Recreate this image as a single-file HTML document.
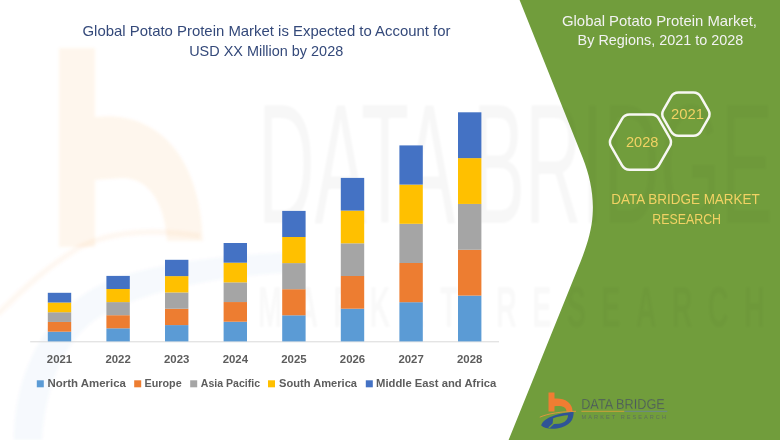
<!DOCTYPE html>
<html><head><meta charset="utf-8">
<style>
html,body{margin:0;padding:0;background:#fff;}
body{width:780px;height:440px;overflow:hidden;position:relative;}
svg{position:absolute;left:0;top:0;display:block;}
text{font-family:"Liberation Sans",sans-serif;}
</style></head>
<body>
<svg width="780" height="440" viewBox="0 0 780 440">
  <defs><filter id="bl" x="-10%" y="-10%" width="120%" height="120%"><feGaussianBlur stdDeviation="1.5"/></filter><filter id="bl2" x="-5%" y="-10%" width="110%" height="120%"><feGaussianBlur stdDeviation="1"/></filter><clipPath id="gc"><path d="M519.6 0 L582.8 158 C590 176 594 196 592.6 215 C591.6 232 585.5 250 578 268 L508.6 440 L780 440 L780 0 Z"/></clipPath></defs>
  <g filter="url(#bl)">
  <!-- faint watermark logo left -->
  <g opacity="0.07">
    <path d="M59 48 L95 48 L95 117 C152 110 200 150 203 241 L167 241 C165 205 150 178 122 178 L95 180 L95 247 L59 247 Z" fill="#ED7D31"/>
  </g>
  <g opacity="0.035">
    <path d="M14 440 C14 380 40 310 110 280 C160 262 230 254 300 252 L300 272 C220 276 140 290 95 320 C60 345 45 395 42 440 Z" fill="#4472C4"/>
  </g>
  <path d="M-2 314 C20 292 45 268 80 247 C110 232 150 228 200 236" fill="none" stroke="#ED7D31" stroke-width="6" opacity="0.05"/>
  </g>
  <!-- watermark text (white side) -->
  <text filter="url(#bl2)" x="258" y="223" font-size="170" fill="#000" opacity="0.03" textLength="515" lengthAdjust="spacingAndGlyphs">DATA BRIDGE</text>
  <text filter="url(#bl2)" x="258" y="327" font-size="57" font-weight="bold" fill="#000" opacity="0.025" textLength="522" lengthAdjust="spacingAndGlyphs" letter-spacing="30">MARKET RESEARCH</text>
  <!-- green panel -->
  <path d="M519.6 0 L582.8 158 C590 176 594 196 592.6 215 C591.6 232 585.5 250 578 268 L508.6 440 L780 440 L780 0 Z" fill="#719D3C"/>
  <g clip-path="url(#gc)">
    <text filter="url(#bl2)" x="258" y="223" font-size="170" fill="#000" opacity="0.02" textLength="515" lengthAdjust="spacingAndGlyphs">DATA BRIDGE</text>
    <text filter="url(#bl2)" x="258" y="327" font-size="57" font-weight="bold" fill="#000" opacity="0.02" textLength="522" lengthAdjust="spacingAndGlyphs" letter-spacing="30">MARKET RESEARCH</text>
  </g>


  <!-- title -->
  <text x="82.5" y="35.9" font-size="14.8" fill="#34497A" textLength="368" lengthAdjust="spacingAndGlyphs">Global Potato Protein Market is Expected to Account for</text>
  <text x="189.2" y="55.9" font-size="14.8" fill="#34497A" textLength="154" lengthAdjust="spacingAndGlyphs">USD XX Million by 2028</text>

  <!-- green title -->
  <text x="562" y="25.6" font-size="14.8" fill="#F2F2F2" textLength="195" lengthAdjust="spacingAndGlyphs">Global Potato Protein Market,</text>
  <text x="577.6" y="45.4" font-size="14.8" fill="#F2F2F2" textLength="165.6" lengthAdjust="spacingAndGlyphs">By Regions, 2021 to 2028</text>

  <!-- hexagons -->
  <path d="M669.75 137.82 Q672.25 142.15 669.75 146.48 L658.85 165.36 Q656.35 169.69 651.35 169.69 L629.55 169.69 Q624.55 169.69 622.05 165.36 L611.15 146.48 Q608.65 142.15 611.15 137.82 L622.05 118.94 Q624.55 114.61 629.55 114.61 L651.35 114.61 Q656.35 114.61 658.85 118.94 Z" fill="none" stroke="#F7F7F2" stroke-width="2.5"/>
  <path d="M708.30 109.77 Q710.80 114.10 708.30 118.43 L700.85 131.33 Q698.35 135.66 693.35 135.66 L678.45 135.66 Q673.45 135.66 670.95 131.33 L663.50 118.43 Q661.00 114.10 663.50 109.77 L670.95 96.87 Q673.45 92.54 678.45 92.54 L693.35 92.54 Q698.35 92.54 700.85 96.87 Z" fill="none" stroke="#F7F7F2" stroke-width="2.5"/>
  <text x="625.9" y="147.2" font-size="14.6" fill="#F1D264" textLength="32.5" lengthAdjust="spacingAndGlyphs">2028</text>
  <text x="671.1" y="119.2" font-size="14.6" fill="#F1D264" textLength="33" lengthAdjust="spacingAndGlyphs">2021</text>

  <!-- DBMR text -->
  <text x="611.3" y="204" font-size="14.2" fill="#F1D264" textLength="148.5" lengthAdjust="spacingAndGlyphs">DATA BRIDGE MARKET</text>
  <text x="652.3" y="223.6" font-size="14.2" fill="#F1D264" textLength="68.7" lengthAdjust="spacingAndGlyphs">RESEARCH</text>

  <!-- axis -->
  <line x1="30.2" y1="341.8" x2="499" y2="341.8" stroke="#D9D9D9" stroke-width="1"/>

  <!-- bars -->
  <g>
  <rect x="47.80" y="331.68" width="23.4" height="9.72" fill="#5B9BD5"/>
  <rect x="47.80" y="321.96" width="23.4" height="9.72" fill="#ED7D31"/>
  <rect x="47.80" y="312.24" width="23.4" height="9.72" fill="#A5A5A5"/>
  <rect x="47.80" y="302.52" width="23.4" height="9.72" fill="#FFC000"/>
  <rect x="47.80" y="292.80" width="23.4" height="9.72" fill="#4472C4"/>
  <rect x="106.40" y="328.30" width="23.4" height="13.10" fill="#5B9BD5"/>
  <rect x="106.40" y="315.20" width="23.4" height="13.10" fill="#ED7D31"/>
  <rect x="106.40" y="302.10" width="23.4" height="13.10" fill="#A5A5A5"/>
  <rect x="106.40" y="289.00" width="23.4" height="13.10" fill="#FFC000"/>
  <rect x="106.40" y="275.90" width="23.4" height="13.10" fill="#4472C4"/>
  <rect x="165.00" y="325.08" width="23.4" height="16.32" fill="#5B9BD5"/>
  <rect x="165.00" y="308.76" width="23.4" height="16.32" fill="#ED7D31"/>
  <rect x="165.00" y="292.44" width="23.4" height="16.32" fill="#A5A5A5"/>
  <rect x="165.00" y="276.12" width="23.4" height="16.32" fill="#FFC000"/>
  <rect x="165.00" y="259.80" width="23.4" height="16.32" fill="#4472C4"/>
  <rect x="223.60" y="321.72" width="23.4" height="19.68" fill="#5B9BD5"/>
  <rect x="223.60" y="302.04" width="23.4" height="19.68" fill="#ED7D31"/>
  <rect x="223.60" y="282.36" width="23.4" height="19.68" fill="#A5A5A5"/>
  <rect x="223.60" y="262.68" width="23.4" height="19.68" fill="#FFC000"/>
  <rect x="223.60" y="243.00" width="23.4" height="19.68" fill="#4472C4"/>
  <rect x="282.20" y="315.30" width="23.4" height="26.10" fill="#5B9BD5"/>
  <rect x="282.20" y="289.20" width="23.4" height="26.10" fill="#ED7D31"/>
  <rect x="282.20" y="263.10" width="23.4" height="26.10" fill="#A5A5A5"/>
  <rect x="282.20" y="237.00" width="23.4" height="26.10" fill="#FFC000"/>
  <rect x="282.20" y="210.90" width="23.4" height="26.10" fill="#4472C4"/>
  <rect x="340.80" y="308.70" width="23.4" height="32.70" fill="#5B9BD5"/>
  <rect x="340.80" y="276.00" width="23.4" height="32.70" fill="#ED7D31"/>
  <rect x="340.80" y="243.30" width="23.4" height="32.70" fill="#A5A5A5"/>
  <rect x="340.80" y="210.60" width="23.4" height="32.70" fill="#FFC000"/>
  <rect x="340.80" y="177.90" width="23.4" height="32.70" fill="#4472C4"/>
  <rect x="399.40" y="302.20" width="23.4" height="39.20" fill="#5B9BD5"/>
  <rect x="399.40" y="263.00" width="23.4" height="39.20" fill="#ED7D31"/>
  <rect x="399.40" y="223.80" width="23.4" height="39.20" fill="#A5A5A5"/>
  <rect x="399.40" y="184.60" width="23.4" height="39.20" fill="#FFC000"/>
  <rect x="399.40" y="145.40" width="23.4" height="39.20" fill="#4472C4"/>
  <rect x="458.00" y="295.58" width="23.4" height="45.82" fill="#5B9BD5"/>
  <rect x="458.00" y="249.76" width="23.4" height="45.82" fill="#ED7D31"/>
  <rect x="458.00" y="203.94" width="23.4" height="45.82" fill="#A5A5A5"/>
  <rect x="458.00" y="158.12" width="23.4" height="45.82" fill="#FFC000"/>
  <rect x="458.00" y="112.30" width="23.4" height="45.82" fill="#4472C4"/>
  </g>

  <!-- axis labels -->
  <g font-size="11.4" font-weight="bold" fill="#5D5D5D" text-anchor="middle">
    <text x="59.5" y="362.5">2021</text>
    <text x="118.1" y="362.5">2022</text>
    <text x="176.7" y="362.5">2023</text>
    <text x="235.3" y="362.5">2024</text>
    <text x="293.9" y="362.5">2025</text>
    <text x="352.5" y="362.5">2026</text>
    <text x="411.1" y="362.5">2027</text>
    <text x="469.7" y="362.5">2028</text>
  </g>

  <!-- legend -->
  <rect x="36.8" y="380.3" width="7" height="7" fill="#5B9BD5"/>
  <rect x="134.2" y="380.3" width="7" height="7" fill="#ED7D31"/>
  <rect x="190.2" y="380.3" width="7" height="7" fill="#A5A5A5"/>
  <rect x="268" y="380.3" width="7" height="7" fill="#FFC000"/>
  <rect x="365.8" y="380.3" width="7" height="7" fill="#4472C4"/>
  <g font-size="11.2" font-weight="bold" fill="#5D5D5D">
    <text x="47.5" y="387.2" textLength="78.5" lengthAdjust="spacingAndGlyphs">North America</text>
    <text x="144.5" y="387.2" textLength="37.2" lengthAdjust="spacingAndGlyphs">Europe</text>
    <text x="200.8" y="387.2" textLength="59.2" lengthAdjust="spacingAndGlyphs">Asia Pacific</text>
    <text x="279" y="387.2" textLength="78" lengthAdjust="spacingAndGlyphs">South America</text>
    <text x="376" y="387.2" textLength="120.3" lengthAdjust="spacingAndGlyphs">Middle East and Africa</text>
  </g>

  <!-- logo -->
  <path d="M548.5 392.5 L554.5 392.5 L554.5 398.6 C559 398.2 564 398.8 568 402 C571 404.5 572.5 408 572.6 411.4 L566.6 411.4 C566.3 408.8 564.8 406.8 561.5 406.2 C559 405.8 556.5 405.9 554.5 406.2 L554.5 411.4 L548.5 411.4 Z" fill="#F07D32"/>
  <path fill-rule="evenodd" fill="#2F5496" d="M541.2 425.5 C542.5 420 552 414 573.6 411.8 C574 419.5 570 426.5 557 428.4 C551 429 544.5 428.8 541.2 425.5 Z M553.2 418.3 C558 416.6 563.5 415.6 568 415.3 C567.9 419.3 565.5 422.8 559 423.7 L554 423.9 L549.8 428 L548.2 427.6 L552.6 423.4 Z"/>
  <path d="M539.8 417.2 C548 413.5 561 411.6 576 411.3" fill="none" stroke="#E8943E" stroke-width="0.9"/>
  <text x="581.2" y="409.3" font-size="14.9" fill="#4A5560" stroke="#719D3C" stroke-width="0.3" textLength="83.6" lengthAdjust="spacingAndGlyphs">DATA BRIDGE</text>
  <line x1="581.4" y1="411.3" x2="624.4" y2="411.3" stroke="#D9A23A" stroke-width="0.9"/>
  <line x1="624.4" y1="411.3" x2="667.3" y2="411.3" stroke="#6A8797" stroke-width="0.9"/>
  <text x="581.6" y="419.4" font-size="5.6" fill="#5E705E" textLength="84.4" lengthAdjust="spacing">MARKET RESEARCH</text>
</svg>
</body></html>
